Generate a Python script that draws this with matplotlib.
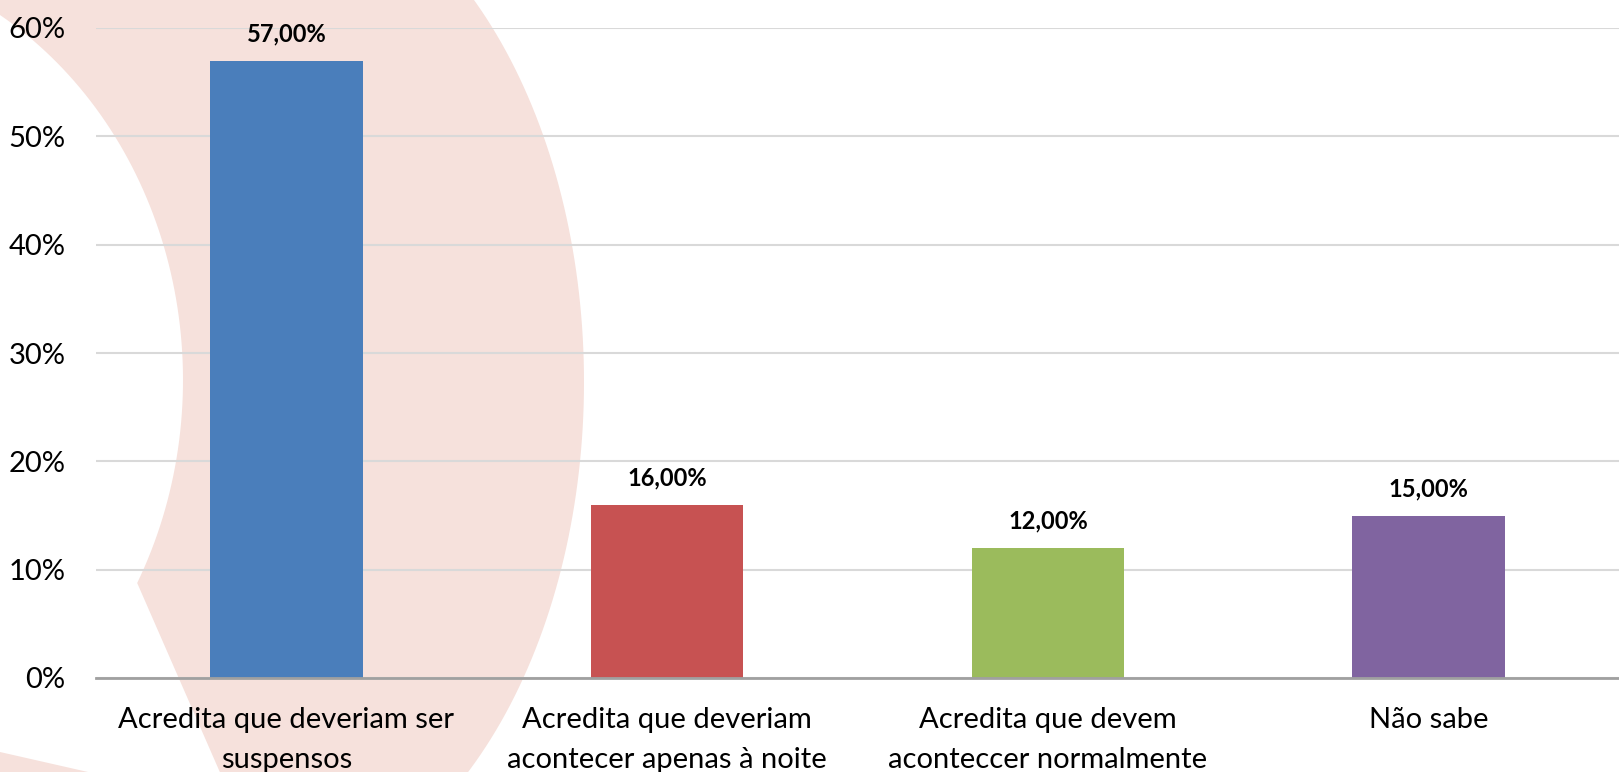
import matplotlib
matplotlib.use("Agg")
import numpy as np
import matplotlib.pyplot as plt
from matplotlib.patches import Polygon
from matplotlib.ticker import PercentFormatter

categories = ["Acredita que deveriam ser\nsuspensos",
              "Acredita que deveriam\nacontecer apenas à noite",
              "Acredita que devem\naconteccer normalmente",
              "Não sabe"]
values = [57.0, 16.0, 12.0, 15.0]
value_labels = ["57,00%", "16,00%", "12,00%", "15,00%"]
colors = ["#4A7EBB", "#C75252", "#9BBB5C", "#8064A0"]
yticks = [0, 10, 20, 30, 40, 50, 60]

W, H = 1619, 772
plt.rcParams['font.family'] = ['Lato', 'DejaVu Sans']
fig = plt.figure(figsize=(W / 100, H / 100), dpi=100)
fig.patch.set_facecolor("white")

# decorative pink crescent in the background (figure pixel coords, y from top)
def px(pts):
    return [(x / W, 1 - y / H) for x, y in pts]

t_out = np.linspace(np.arcsin(-387 / 515), np.arcsin(395 / 515), 80)
outer = [(250 + 334 * np.cos(t), 382 + 515 * np.sin(t)) for t in t_out]
t_in = np.linspace(np.arcsin(203 / 428), np.arcsin(-390 / 428), 80)
inner = [(-200 + 383 * np.cos(t), 380 + 428 * np.sin(t)) for t in t_in]
pts = outer + [(222, 777)] + inner
shape = Polygon(px(pts), closed=True, transform=fig.transFigure,
                facecolor="#F6E1DC", edgecolor="none", zorder=-1)
fig.patches.append(shape)
corner = Polygon(px([(0, 752), (110, 777), (0, 777)]), closed=True, transform=fig.transFigure,
                 facecolor="#F6E1DC", edgecolor="none", zorder=-1)
fig.patches.append(corner)

ax = fig.add_axes([96 / W, 94 / H, (W - 96) / W, 650 / H])
ax.set_zorder(1)
ax.patch.set_alpha(0)
x = range(len(categories))
ax.bar(x, values, width=0.4, color=colors, zorder=3)
ax.set_xlim(-0.5, len(categories) - 0.5)
ax.set_ylim(0, 60)
ax.set_yticks(yticks)
ax.yaxis.set_major_formatter(PercentFormatter(decimals=0))
ax.grid(axis="y", color="#D9D9D9", linewidth=1.5, zorder=1)
for s in ["top", "right", "left"]:
    ax.spines[s].set_visible(False)
ax.spines["bottom"].set_color("#A0A0A0")
ax.spines["bottom"].set_linewidth(2)
ax.spines["bottom"].set_zorder(4)
ax.tick_params(axis="y", length=0, pad=22, labelsize=21)
ax.tick_params(axis="x", length=0, pad=21, labelsize=21)
ax.set_xticks(list(x))
ax.set_xticklabels(categories, linespacing=1.65)
for xi, v, lab in zip(x, values, value_labels):
    ax.annotate(lab, (xi, v), xytext=(0, 11), textcoords="offset points",
                ha="center", va="bottom", fontsize=17, fontweight="bold", zorder=5)

fig.savefig("out.png", dpi=100)
